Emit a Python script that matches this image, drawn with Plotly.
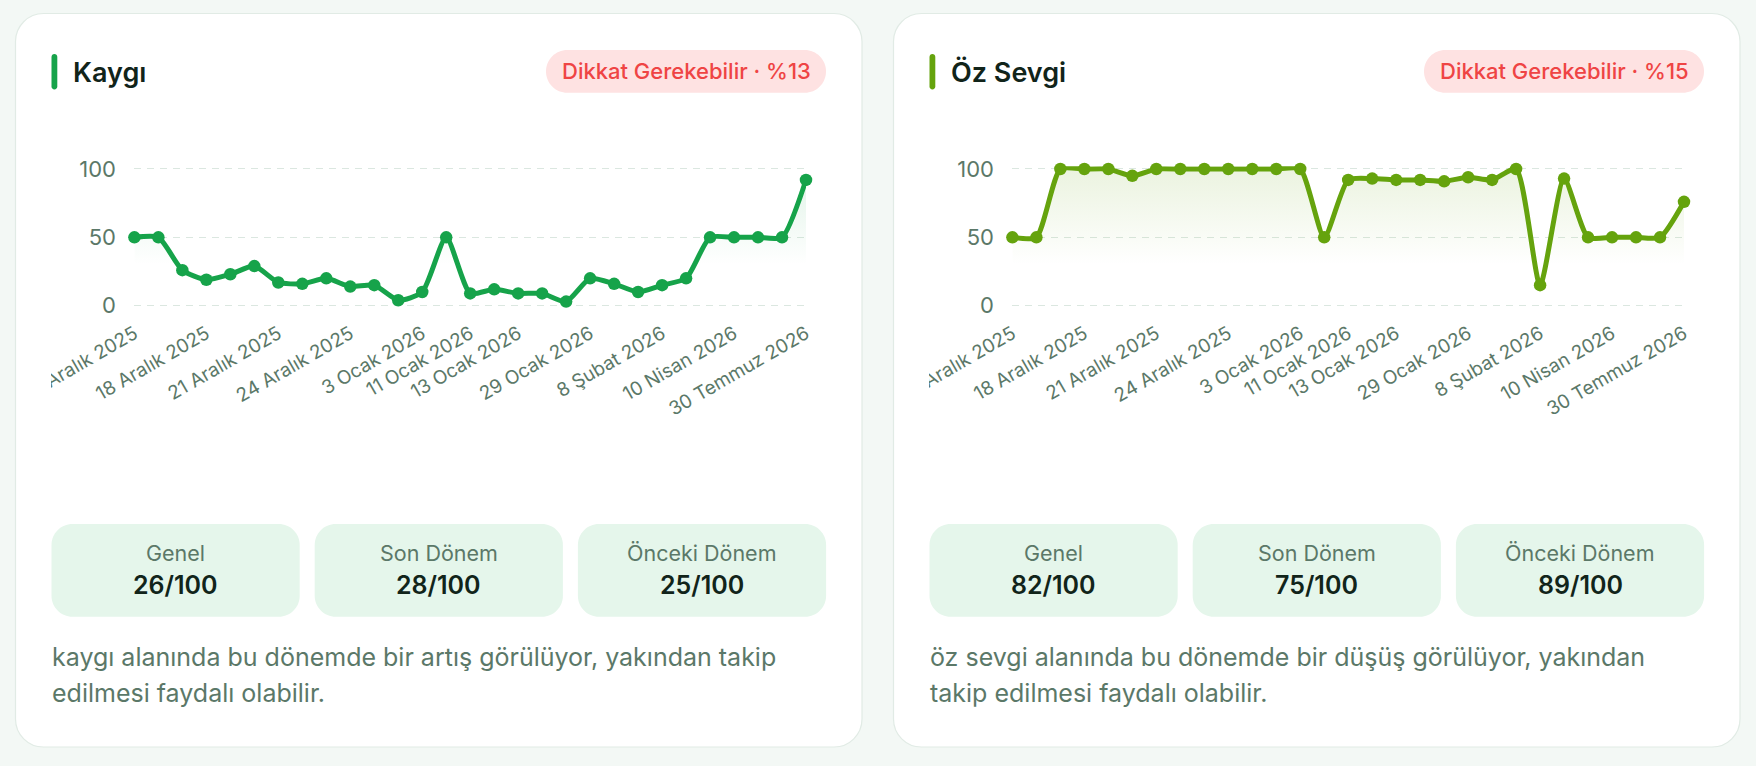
import plotly.graph_objects as go

# ---------------- data ----------------
session_index = list(range(29))
tick_positions = [0, 3, 6, 9, 12, 14, 16, 19, 22, 25, 28]
tick_labels = ["15 Aralık 2025", "18 Aralık 2025", "21 Aralık 2025", "24 Aralık 2025",
               "3 Ocak 2026", "11 Ocak 2026", "13 Ocak 2026", "29 Ocak 2026",
               "8 Şubat 2026", "10 Nisan 2026", "30 Temmuz 2026"]

kaygi = [50, 50, 26, 19, 23, 29, 17, 16, 20, 14, 15, 4, 10, 50, 9, 12, 9, 9, 3,
         20, 16, 10, 15, 20, 50, 50, 50, 50, 92]
oz_sevgi = [50, 50, 100, 100, 100, 95, 100, 100, 100, 100, 100, 100, 100, 50, 92,
            93, 92, 92, 91, 94, 92, 100, 15, 93, 50, 50, 50, 50, 76]

titles = ["Kaygı", "Öz Sevgi"]
badges = ["Dikkat Gerekebilir · %13", "Dikkat Gerekebilir · %15"]
stat_labels = ["Genel", "Son Dönem", "Önceki Dönem"]
kaygi_stats = ["26/100", "28/100", "25/100"]
oz_sevgi_stats = ["82/100", "75/100", "89/100"]
kaygi_text = ["kaygı alanında bu dönemde bir artış görülüyor, yakından takip",
              "edilmesi faydalı olabilir."]
oz_sevgi_text = ["öz sevgi alanında bu dönemde bir düşüş görülüyor, yakından",
                 "takip edilmesi faydalı olabilir."]

# ---------------- layout helpers ----------------
W, H = 1756, 766
FONT = "Inter"
PAGE_BG = "#f3f8f5"
CARD_BORDER = "#e1ebe5"
STAT_BG = "#e5f6eb"
MUTED = "#5b7868"
DARK = "#11241a"


def px(x):
    return x / W


def py(y):
    return 1 - y / H


def rr_path(x0, y0, x1, y1, r):
    k = 0.5523 * r
    pts = [
        ("M", [(x0 + r, y0)]),
        ("L", [(x1 - r, y0)]),
        ("C", [(x1 - r + k, y0), (x1, y0 + r - k), (x1, y0 + r)]),
        ("L", [(x1, y1 - r)]),
        ("C", [(x1, y1 - r + k), (x1 - r + k, y1), (x1 - r, y1)]),
        ("L", [(x0 + r, y1)]),
        ("C", [(x0 + r - k, y1), (x0, y1 - r + k), (x0, y1 - r)]),
        ("L", [(x0, y0 + r)]),
        ("C", [(x0, y0 + r - k), (x0 + r - k, y0), (x0 + r, y0)]),
    ]
    s = ""
    for cmd, ps in pts:
        s += cmd + " " + " ".join(f"{px(a):.6f},{py(b):.6f}" for a, b in ps) + " "
    return s + "Z"


panels = [
    dict(title=titles[0], color="#16a34a", rgb="22,163,74", values=kaygi,
         badge=badges[0], stats=kaygi_stats, text=kaygi_text),
    dict(title=titles[1], color="#65a30d", rgb="101,163,13", values=oz_sevgi,
         badge=badges[1], stats=oz_sevgi_stats, text=oz_sevgi_text),
]

fig = go.Figure()
shapes = []
annotations = []

OFFSET = 878
for i, p in enumerate(panels):
    ox = i * OFFSET
    # card
    shapes.append(dict(type="path", path=rr_path(15.5 + ox, 13.5, 862 + ox, 747, 28),
                       xref="paper", yref="paper", fillcolor="white",
                       line=dict(color=CARD_BORDER, width=1.2), layer="below"))
    # title bar
    shapes.append(dict(type="path", path=rr_path(51.5 + ox, 54, 57.3 + ox, 89.5, 2.9),
                       xref="paper", yref="paper", fillcolor=p["color"],
                       line=dict(width=0), layer="below"))
    annotations.append(dict(text=p["title"], x=px(71 + ox), y=py(72.5), xref="paper",
                            yref="paper", xanchor="left", yanchor="middle", showarrow=False,
                            font=dict(family=FONT, size=27, color=DARK, weight=600)))
    # badge
    shapes.append(dict(type="path", path=rr_path(546 + ox, 50, 826 + ox, 92.7, 21.3),
                       xref="paper", yref="paper", fillcolor="#fee2e2",
                       line=dict(width=0), layer="below"))
    annotations.append(dict(text=p["badge"], x=px(686 + ox), y=py(71), xref="paper",
                            yref="paper", xanchor="center", yanchor="middle", showarrow=False,
                            font=dict(family=FONT, size=22, color="#ef4444", weight=500)))
    # stat boxes
    bw = 248.2
    for j in range(3):
        bx0 = 51.5 + ox + j * (bw + 15)
        shapes.append(dict(type="path", path=rr_path(bx0, 524, bx0 + bw, 616.7, 21),
                           xref="paper", yref="paper", fillcolor=STAT_BG,
                           line=dict(width=0), layer="below"))
        cx = bx0 + bw / 2
        annotations.append(dict(text=stat_labels[j], x=px(cx), y=py(553), xref="paper",
                                yref="paper", xanchor="center", yanchor="middle",
                                showarrow=False,
                                font=dict(family=FONT, size=21.5, color=MUTED)))
        annotations.append(dict(text=p["stats"][j], x=px(cx), y=py(585), xref="paper",
                                yref="paper", xanchor="center", yanchor="middle",
                                showarrow=False,
                                font=dict(family=FONT, size=25, color=DARK, weight=600)))
    # description
    for k, line in enumerate(p["text"]):
        annotations.append(dict(text=line, x=px(49.5 + ox), y=py(657 + 36 * k), xref="paper",
                                yref="paper", xanchor="left", yanchor="middle",
                                showarrow=False,
                                font=dict(family=FONT, size=25, color=MUTED)))
    # clip mask for first tick label (canvas edge)
    shapes.append(dict(type="rect", x0=px(17 + ox), x1=px(51 + ox), y0=py(440), y1=py(300),
                       xref="paper", yref="paper", fillcolor="white",
                       line=dict(width=0), layer="above"))

    # chart trace
    xa = "x" if i == 0 else "x2"
    ya = "y" if i == 0 else "y2"
    fig.add_trace(go.Scatter(
        x=session_index, y=p["values"], mode="lines+markers",
        line=dict(color=p["color"], width=5, shape="spline", smoothing=0.6),
        marker=dict(color=p["color"], size=12.5),
        fill="tozeroy",
        fillgradient=dict(type="vertical", start=0, stop=100,
                          colorscale=[[0, f"rgba({p['rgb']},0)"],
                                      [0.3, f"rgba({p['rgb']},0.0)"],
                                      [1, f"rgba({p['rgb']},0.13)"]]),
        cliponaxis=False, showlegend=False, hoverinfo="skip",
        xaxis=xa, yaxis=ya))

# y axis: 0 at 305.7 px, 100 at 169 px; pad range so edge gridlines render
PAD = 2.0
ppu = (305.7 - 169) / 100
y_domain = [py(305.7 + PAD * ppu), py(169 - PAD * ppu)]
axis_x = dict(range=[0, 28], showgrid=False, zeroline=False, showline=False,
              tickmode="array", tickvals=tick_positions, ticktext=tick_labels,
              tickangle=-30, ticks="outside", ticklen=6, tickcolor="rgba(0,0,0,0)",
              tickfont=dict(family=FONT, size=19, color=MUTED), fixedrange=True,
              automargin=False)
axis_y = dict(range=[-PAD, 100 + PAD], tickmode="array", tickvals=[0, 50, 100],
              showgrid=True, gridcolor="#dbe7e0", gridwidth=1.3, griddash="7px,6px",
              zeroline=False, showline=False, ticks="outside", ticklen=13,
              tickcolor="rgba(0,0,0,0)",
              tickfont=dict(family=FONT, size=22, color=MUTED), fixedrange=True,
              domain=y_domain, automargin=False)

fig.update_layout(
    width=W, height=H, margin=dict(l=0, r=0, t=0, b=0, pad=0, autoexpand=False),
    paper_bgcolor=PAGE_BG, plot_bgcolor="rgba(0,0,0,0)",
    xaxis=dict(axis_x, domain=[px(134.4), px(806)], anchor="y"),
    yaxis=dict(axis_y, anchor="x"),
    xaxis2=dict(axis_x, domain=[px(134.4 + OFFSET), px(806 + OFFSET)], anchor="y2"),
    yaxis2=dict(axis_y, anchor="x2"),
    shapes=shapes, annotations=annotations,
    font=dict(family=FONT),
)

fig.write_html(
    "out.html",
    config={"displayModeBar": False},
    post_script=("document.body.style.margin='0';"
                 "document.body.style.padding='0';"
                 "document.body.style.overflow='hidden';"
                 "document.body.style.background='" + PAGE_BG + "';"),
)
